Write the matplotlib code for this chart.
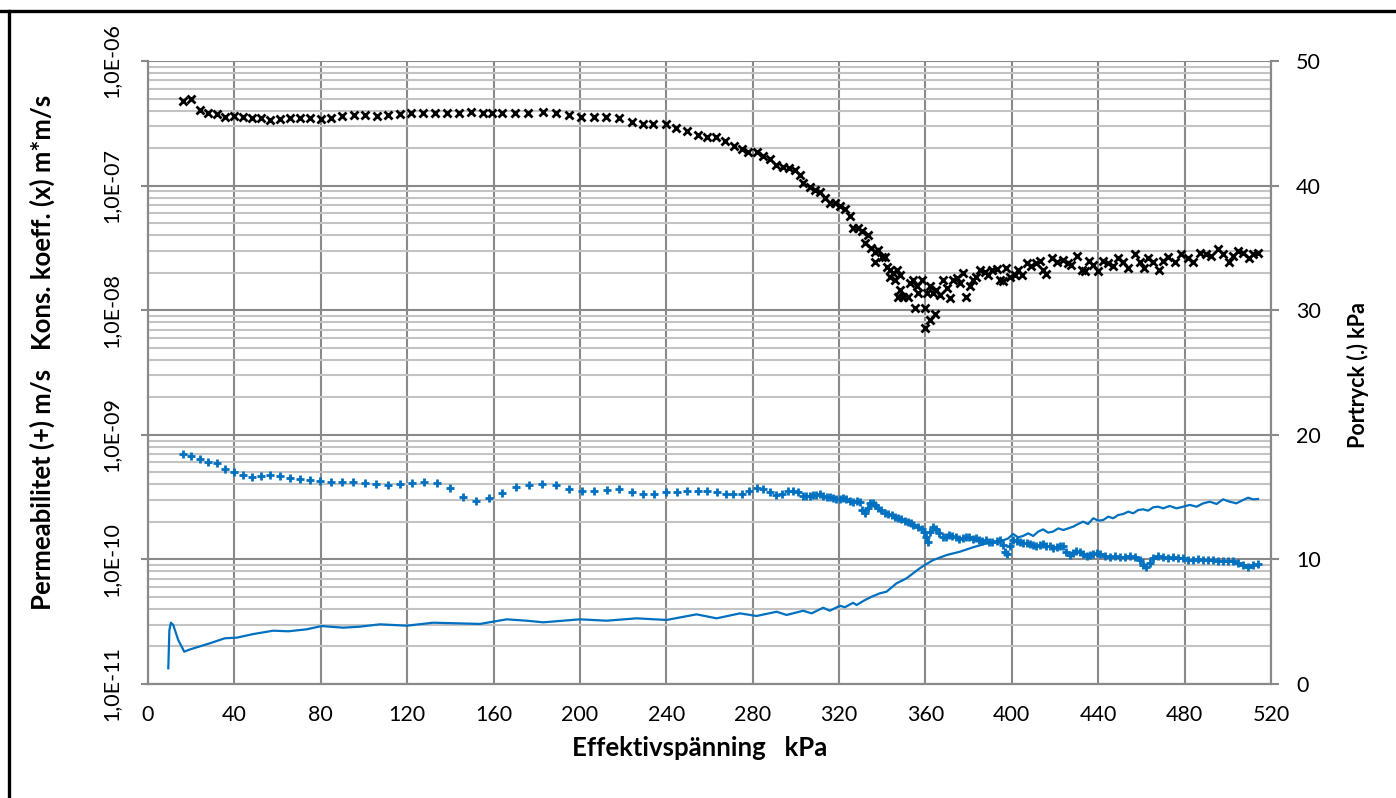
import matplotlib
matplotlib.use("Agg")
import matplotlib.pyplot as plt
from matplotlib.ticker import FixedLocator, LogLocator, NullFormatter, FuncFormatter
from matplotlib.lines import Line2D

# ---------------- data ----------------
# Konsolideringskoefficient (x), m*m/s
cv_x = [16.0, 19.8, 24.1, 27.9, 31.8, 35.6, 39.8, 43.8, 48.0, 52.3, 56.5, 61.1, 65.7, 70.4, 75.0,
        80.0, 84.7, 89.9, 95.4, 100.5, 105.9, 111.2, 116.5, 122.0, 127.5, 133.0, 138.5, 144.0, 149.5,
        155.0, 159.5, 163.7, 170.0, 176.0, 182.7, 189.0, 195.0, 200.5, 206.5, 212.0, 218.0, 224.0,
        229.0, 234.0, 239.7, 244.7, 249.8, 254.5, 259.0, 263.0, 267.4, 271.4, 274.9, 278.0, 281.8,
        284.9, 288.0, 291.0, 294.0, 297.0, 299.5, 302.0,
        303.4, 306.5, 308.8, 311.1, 313.4, 315.7, 318.0, 320.4, 322.7, 325.0, 326.5, 328.9, 330.4,
        332.0, 333.5, 335.0, 336.6, 338.1, 336.6, 339.7, 341.2, 342.3, 343.5, 345.1, 346.6, 348.1,
        343.5, 345.8, 348.1, 349.7, 352.0, 347.4, 352.8, 354.3, 355.9, 356.6, 355.1, 358.2, 359.7,
        360.5, 362.0, 359.7, 362.0, 364.4, 363.6, 365.1, 366.7, 368.2, 369.8, 371.3, 372.8, 374.4,
        375.9, 377.5, 379.0, 380.5, 382.1, 383.6, 385.2, 387.5, 389.0, 390.6, 392.9, 394.4, 396.0,
        397.5, 399.1, 401.4, 402.9, 404.5, 406.8,
        409.1, 411.4, 413.0, 414.5, 416.0, 418.4, 420.7, 423.8, 426.1, 427.6, 430.0, 432.3, 433.8,
        435.8, 437.7, 440.0, 442.3, 444.6, 446.9, 449.2, 451.5, 453.9, 457.0, 459.3, 461.1, 463.1,
        465.4, 468.2, 470.0, 472.4, 475.5, 478.5, 481.6, 484.0, 487.0, 490.1, 492.4, 495.5, 497.8,
        500.6, 502.5, 504.8, 507.1, 509.9, 511.7, 514.0]
cv_y = [4.78e-7, 4.93e-7, 4.05e-7, 3.80e-7, 3.73e-7, 3.57e-7, 3.64e-7, 3.53e-7, 3.47e-7, 3.47e-7,
        3.36e-7, 3.43e-7, 3.47e-7, 3.51e-7, 3.51e-7, 3.40e-7, 3.51e-7, 3.62e-7, 3.69e-7, 3.69e-7,
        3.64e-7, 3.69e-7, 3.75e-7, 3.80e-7, 3.85e-7, 3.85e-7, 3.80e-7, 3.85e-7, 3.90e-7, 3.85e-7,
        3.80e-7, 3.80e-7, 3.80e-7, 3.80e-7, 3.87e-7, 3.80e-7, 3.69e-7, 3.57e-7, 3.57e-7, 3.57e-7,
        3.47e-7, 3.26e-7, 3.12e-7, 3.12e-7, 3.12e-7, 2.92e-7, 2.76e-7, 2.55e-7, 2.44e-7, 2.44e-7,
        2.29e-7, 2.08e-7, 1.96e-7, 1.87e-7, 1.87e-7, 1.74e-7, 1.63e-7, 1.46e-7, 1.42e-7, 1.38e-7,
        1.33e-7, 1.22e-7,
        1.04e-7, 9.8e-8, 9.3e-8, 8.9e-8, 7.9e-8, 7.3e-8, 7.3e-8, 6.8e-8, 6.45e-8, 5.7e-8, 4.54e-8,
        4.54e-8, 4.35e-8, 3.44e-8, 4.02e-8, 3.14e-8, 2.95e-8, 3.04e-8, 2.45e-8, 2.69e-8, 2.69e-8,
        2.21e-8, 2.1e-8, 1.98e-8, 2.1e-8, 1.92e-8, 1.86e-8, 1.75e-8, 1.45e-8, 1.28e-8, 1.28e-8,
        1.28e-8, 1.64e-8, 1.75e-8, 1.55e-8, 1.37e-8, 1.05e-8, 1.75e-8, 1.04e-8, 1.37e-8, 1.55e-8,
        7.2e-9, 8.35e-9, 9.4e-9, 1.37e-8, 1.45e-8, 1.32e-8, 1.75e-8, 1.5e-8, 1.25e-8, 1.75e-8,
        1.8e-8, 1.64e-8, 2.0e-8, 1.28e-8, 1.55e-8, 1.75e-8, 1.86e-8, 2.1e-8, 2.04e-8, 1.92e-8,
        2.1e-8, 2.13e-8, 1.75e-8, 1.7e-8, 2.17e-8, 1.86e-8, 1.92e-8, 2.1e-8, 1.92e-8, 2.38e-8,
        2.25e-8, 2.38e-8, 2.5e-8, 2.1e-8, 1.95e-8, 2.6e-8, 2.45e-8, 2.55e-8, 2.38e-8, 2.3e-8, 2.7e-8,
        2.1e-8, 2.05e-8, 2.5e-8, 2.3e-8, 2.05e-8, 2.5e-8, 2.38e-8, 2.25e-8, 2.6e-8, 2.45e-8, 2.2e-8,
        2.8e-8, 2.45e-8, 2.2e-8, 2.6e-8, 2.45e-8, 2.1e-8, 2.5e-8, 2.65e-8, 2.45e-8, 2.8e-8, 2.6e-8,
        2.45e-8, 2.9e-8, 2.8e-8, 2.7e-8, 3.1e-8, 2.85e-8, 2.45e-8, 2.7e-8, 3.0e-8, 2.9e-8, 2.6e-8,
        2.8e-8, 2.9e-8]

# Permeabilitet (+), m/s
k_x = [16.0, 19.8, 24.1, 27.9, 31.8, 35.6, 39.8, 43.8, 48.0, 52.2, 56.5, 61.1, 65.7, 70.4, 75.0,
       79.6, 84.7, 90.0, 95.0, 100.5, 105.6, 111.0, 116.7, 122.4, 127.9, 133.7, 139.8, 145.7, 151.9,
       157.7, 164.0, 170.2, 176.5, 182.5, 188.7, 194.9, 200.8, 206.6, 212.6, 218.2, 224.0, 229.3,
       234.4, 239.7, 244.8, 249.7, 254.5, 259.0, 263.3, 267.5, 271.0, 274.9, 278.4, 281.8, 284.9,
       288.0, 290.7, 293.8, 296.4, 298.8, 301.1,
       303.4, 304.9, 306.5, 308.0, 309.5, 311.1, 312.6, 314.2, 315.7, 317.3, 318.8, 320.4, 321.9,
       323.4, 325.0, 326.5, 328.1, 329.6, 330.8, 331.9, 333.2, 334.2, 335.5, 336.6, 338.1, 339.6,
       341.2, 342.7, 344.3, 345.8, 347.4, 348.9, 350.4, 352.0, 353.5,
       354.3, 356.6, 358.2, 359.3, 360.2, 361.0, 362.0, 363.3, 364.8, 366.4, 367.9, 369.4, 371.0,
       372.5, 374.1, 375.6, 377.2, 378.7, 380.2, 381.8, 383.3, 384.9, 386.4, 388.0, 389.5, 391.0,
       392.9, 394.4, 395.7, 396.8, 397.8, 399.1, 400.6, 402.2, 403.7, 405.2, 406.8, 408.3, 409.9,
       411.4, 413.0, 414.5, 416.0, 417.6, 419.1, 420.7, 422.2, 423.8, 425.3, 426.9, 428.4, 429.9,
       431.5, 433.0, 434.6, 436.1, 437.7, 439.2, 440.7, 443.1, 445.4, 447.7, 450.0, 452.3, 454.6,
       456.9, 459.3, 460.8, 462.3, 463.9, 465.4, 467.7, 470.1, 472.4, 474.7, 477.0, 479.3, 481.6,
       484.0, 486.3, 488.6, 490.9, 493.2, 495.5, 497.8, 500.2, 502.5, 504.8, 507.1, 509.4, 511.7,
       514.0]
k_y = [7.0e-10, 6.8e-10, 6.35e-10, 6.08e-10, 5.9e-10, 5.35e-10, 5.03e-10, 4.73e-10, 4.56e-10,
       4.67e-10, 4.73e-10, 4.67e-10, 4.53e-10, 4.4e-10, 4.34e-10, 4.26e-10, 4.2e-10, 4.2e-10,
       4.16e-10, 4.1e-10, 4.03e-10, 3.93e-10, 4.0e-10, 4.13e-10, 4.16e-10, 4.08e-10, 3.72e-10,
       3.19e-10, 2.94e-10, 3.09e-10, 3.43e-10, 3.83e-10, 3.95e-10, 4.03e-10, 3.93e-10, 3.66e-10,
       3.56e-10, 3.54e-10, 3.6e-10, 3.66e-10, 3.49e-10, 3.37e-10, 3.37e-10, 3.47e-10, 3.45e-10,
       3.56e-10, 3.54e-10, 3.54e-10, 3.47e-10, 3.33e-10, 3.33e-10, 3.33e-10, 3.56e-10, 3.72e-10,
       3.66e-10, 3.49e-10, 3.29e-10, 3.35e-10, 3.54e-10, 3.54e-10, 3.45e-10,
       3.23e-10, 3.23e-10, 3.25e-10, 3.29e-10, 3.29e-10, 3.33e-10, 3.25e-10, 3.19e-10, 3.15e-10,
       3.09e-10, 3.03e-10, 3.05e-10, 3.09e-10, 3.03e-10, 2.96e-10, 2.91e-10, 2.96e-10, 2.91e-10,
       2.5e-10, 2.37e-10, 2.57e-10, 2.82e-10, 2.86e-10, 2.74e-10, 2.57e-10, 2.5e-10, 2.37e-10,
       2.3e-10, 2.27e-10, 2.2e-10, 2.14e-10, 2.1e-10, 2.05e-10, 2.01e-10, 1.95e-10,
       1.89e-10, 1.83e-10, 1.74e-10, 1.67e-10, 1.50e-10, 1.39e-10, 1.67e-10, 1.81e-10, 1.74e-10,
       1.64e-10, 1.52e-10, 1.50e-10, 1.57e-10, 1.54e-10, 1.50e-10, 1.45e-10, 1.48e-10, 1.52e-10,
       1.50e-10, 1.45e-10, 1.48e-10, 1.43e-10, 1.41e-10, 1.43e-10, 1.39e-10, 1.39e-10, 1.41e-10,
       1.43e-10, 1.31e-10, 1.15e-10, 1.10e-10, 1.27e-10, 1.43e-10, 1.41e-10, 1.39e-10, 1.36e-10,
       1.35e-10, 1.33e-10, 1.31e-10, 1.28e-10, 1.31e-10, 1.32e-10, 1.29e-10, 1.27e-10, 1.24e-10,
       1.25e-10, 1.27e-10, 1.28e-10, 1.15e-10, 1.08e-10, 1.12e-10, 1.17e-10, 1.15e-10, 1.10e-10,
       1.06e-10, 1.08e-10, 1.10e-10, 1.12e-10, 1.10e-10, 1.06e-10, 1.05e-10, 1.07e-10, 1.05e-10,
       1.04e-10, 1.06e-10, 1.05e-10, 9.9e-11, 9.0e-11, 8.75e-11, 9.3e-11, 1.02e-10, 1.06e-10,
       1.04e-10, 1.02e-10, 1.04e-10, 1.03e-10, 1.02e-10, 9.9e-11, 9.9e-11, 1.0e-10, 9.9e-11,
       9.8e-11, 9.9e-11, 9.7e-11, 9.7e-11, 9.7e-11, 9.7e-11, 9.4e-11, 9.0e-11, 8.75e-11, 9.0e-11,
       9.2e-11]

# Portryck (.), kPa (right axis)
u_x = [9.4, 9.9, 10.6, 11.7, 14.0, 16.8, 18.7, 22.5, 28.7, 35.6, 41.1, 48.8, 58.0, 65.0, 73.5,
       80.4, 90.4, 98.1, 107.4, 119.8, 132.1, 142.9, 153.7, 166.1, 175.3, 183.0, 200.0, 212.4,
       226.2, 240.1, 254.0, 263.3, 274.1, 281.8, 291.1, 295.7, 303.4, 307.3, 312.6, 315.7, 320.4,
       322.7, 326.5, 328.1, 332.0, 335.0, 338.9, 342.0, 346.6, 351.2, 357.4, 359.7, 363.6, 369.8,
       376.0, 382.0, 388.3, 394.4,
       398.3, 400.6, 402.9, 405.2, 407.6, 409.9, 412.2, 414.5, 416.8, 419.1, 421.5, 423.8, 426.1,
       428.4, 430.7, 433.0, 435.3, 437.7, 440.0, 442.3, 444.6, 446.9, 449.2, 451.5, 453.9, 456.2,
       458.5, 460.8, 463.1, 465.4, 467.7, 470.1, 473.1, 476.2, 479.3, 482.4, 485.5, 488.6, 491.7,
       494.8, 497.8, 500.9, 504.0, 507.1, 509.4, 511.7, 514.0]
u_y = [1.26, 4.33, 4.92, 4.73, 3.53, 2.59, 2.73, 2.94, 3.27, 3.67, 3.72, 4.01, 4.28, 4.23, 4.39,
       4.65, 4.52, 4.60, 4.79, 4.68, 4.92, 4.87, 4.82, 5.19, 5.08, 4.95, 5.19, 5.08, 5.27, 5.14,
       5.59, 5.27, 5.67, 5.46, 5.80, 5.54, 5.88, 5.67, 6.12, 5.88, 6.28, 6.16, 6.52, 6.34, 6.74,
       7.00, 7.28, 7.41, 8.08, 8.48, 9.29, 9.55, 9.95, 10.35, 10.62, 10.97, 11.29, 11.42,
       11.69, 12.04, 11.77, 11.88, 12.09, 11.88, 12.23, 12.41, 12.15, 12.23, 12.49, 12.36, 12.49,
       12.63, 12.84, 13.03, 12.84, 13.30, 13.11, 13.16, 13.43, 13.30, 13.56, 13.64, 13.83, 13.70,
       13.96, 14.02, 13.91, 14.18, 14.23, 14.10, 14.29, 14.10, 14.23, 14.37, 14.23, 14.50, 14.63,
       14.45, 14.82, 14.63, 14.50, 14.77, 14.95, 14.82, 14.85]

x_ticks = list(range(0, 521, 40))
right_ticks = list(range(0, 51, 10))
left_decades = [1e-11, 1e-10, 1e-9, 1e-8, 1e-7, 1e-6]

# ---------------- figure ----------------
W, H = 1396, 798
fig = plt.figure(figsize=(W / 100, H / 100), dpi=100)
fig.patch.set_facecolor("white")

L, R, T, B = 148, 1271, 61, 684
ax = fig.add_axes([L / W, 1 - B / H, (R - L) / W, (B - T) / H])
ax2 = ax.twinx()

FONT = "Lato"
grid_major = "#898989"
grid_minor = "#c3c3c3"
blue = "#0070C0"
TICK_FS = 15.5

ax.set_xlim(0, 520)
ax.set_yscale("log")
ax.set_ylim(1e-11, 1e-6)
ax2.set_ylim(0, 50)

ax.xaxis.set_major_locator(FixedLocator(x_ticks))
ax.yaxis.set_major_locator(FixedLocator(left_decades))
ax.yaxis.set_minor_locator(LogLocator(base=10, subs=range(2, 10), numticks=50))
ax.yaxis.set_minor_formatter(NullFormatter())
ax.yaxis.set_major_formatter(FuncFormatter(lambda v, p: ("%.1E" % v).replace(".", ",")))
ax2.yaxis.set_major_locator(FixedLocator(right_ticks))

ax.grid(True, which="major", axis="x", color=grid_major, lw=1.5)
ax.grid(True, which="major", axis="y", color=grid_major, lw=1.5)
ax.grid(True, which="minor", axis="y", color=grid_minor, lw=1.5)
ax.set_axisbelow(True)

for a in (ax, ax2):
    for s in a.spines.values():
        s.set_color(grid_major)
        s.set_linewidth(1.5)
    a.spines["top"].set_visible(False)

ax.tick_params(axis="x", length=0, pad=15, labelsize=TICK_FS, labelcolor="black")
ax.tick_params(axis="y", which="major", length=5, width=1.5, color=grid_major,
               pad=14, labelsize=TICK_FS, labelrotation=90)
ax.tick_params(axis="y", which="minor", length=0)
ax2.tick_params(axis="y", length=6, width=1.5, color=grid_major, pad=12, labelsize=TICK_FS)
for lab in ax.get_yticklabels():
    lab.set_va("center")
for a in (ax, ax2):
    for lab in a.get_xticklabels() + a.get_yticklabels():
        lab.set_fontfamily(FONT)

# series
ax.plot(cv_x, cv_y, ls="none", marker="x", ms=5.5, mew=2.0, color="black", zorder=4)
ax.plot(k_x, k_y, ls="none", marker="+", ms=5.5, mew=2.0, color=blue, zorder=4)
ax2.plot(u_x, u_y, color=blue, lw=1.6, zorder=3)

# axis titles
fig.text(700 / W, 1 - 748 / H, "Effektivspänning   kPa", fontsize=18.5, fontweight="bold",
         family=FONT, ha="center", va="center")
fig.text(42 / W, 1 - 352 / H, "Permeabilitet (+) m/s   Kons. koeff. (x) m*m/s", fontsize=18.5,
         fontweight="bold", family=FONT, ha="center", va="center", rotation=90)
fig.text(1358 / W, 1 - 375 / H, "Portryck (.) kPa", fontsize=15.5, fontweight="bold",
         family=FONT, ha="center", va="center", rotation=90)

# outer frame lines (top and left)
fig.add_artist(Line2D([0, 1], [1 - 10.5 / H, 1 - 10.5 / H], transform=fig.transFigure,
                      color="black", lw=2.4))
fig.add_artist(Line2D([8.7 / W, 8.7 / W], [0, 1 - 10.5 / H], transform=fig.transFigure,
                      color="black", lw=2.4))

fig.savefig("out.png", dpi=100)
